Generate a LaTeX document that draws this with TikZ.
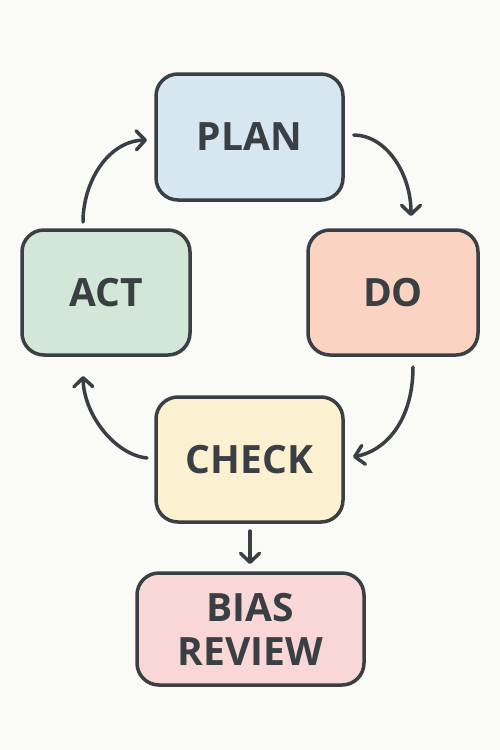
\documentclass[tikz,border=0pt]{standalone}
\usepackage{fontspec}
\setmainfont{Open Sans}
\usetikzlibrary{arrows.meta,calc}
\definecolor{bg}{HTML}{FAFAF7}
\definecolor{ink}{HTML}{3A3F44}
\definecolor{planc}{HTML}{D6E7F2}
\definecolor{doc}{HTML}{FBD3C3}
\definecolor{actc}{HTML}{D2E7D7}
\definecolor{checkc}{HTML}{FBF0D0}
\definecolor{biasc}{HTML}{F9D7D6}
\tikzset{
  stagebox/.style={draw=ink, line width=3.5pt, rounded corners=22pt, text=ink,
    font=\fontsize{39}{44}\selectfont\bfseries, inner sep=0pt, align=center},
  flow/.style={draw=ink, line width=3.5pt, line cap=round,
    -{Straight Barb[length=9pt,width=19pt,line cap=round,line join=round]}}
}
\begin{document}
\begin{tikzpicture}[x=1pt,y=-1pt]
\fill[bg] (0,0) rectangle (500,750);
\useasboundingbox (0,0) rectangle (500,750);
\node[stagebox, fill=planc, minimum width=187pt, minimum height=126pt] (plan) at (249.5,137) {PLAN};
\node[stagebox, fill=doc, minimum width=170pt, minimum height=125pt] (do) at (393,292.5) {DO};
\node[stagebox, fill=actc, minimum width=168pt, minimum height=125pt] (act) at (106,292.5) {ACT};
\node[stagebox, fill=checkc, minimum width=187pt, minimum height=125pt] (check) at (249.5,459.5) {CHECK};
\node[stagebox, fill=biasc, minimum width=227pt, minimum height=112pt] (bias) at (250.5,629) {BIAS\\REVIEW};
% free ends
\coordinate (p1) at ($(plan.east)+(9,-2)$);
\coordinate (d1) at (411,216);
\coordinate (d2) at (413,367);
\coordinate (c1) at (353,457);
\coordinate (c2) at (147,458);
\coordinate (a1) at (83,376);
\coordinate (a2) at (83,222);
\coordinate (p2) at (147,140);
\coordinate (c3) at (250,531);
\coordinate (b1) at (250,564);
\draw[flow] (p1) .. controls (385,135) and (411,172) .. (d1);
\draw[flow] (d2) .. controls (413,418) and (388,450) .. (c1);
\draw[flow] (c2) .. controls (116,455) and (84,416) .. (a1);
\draw[flow] (a2) .. controls (83,182) and (108,141) .. (p2);
\draw[flow] (c3) -- (b1);
\end{tikzpicture}
\end{document}
